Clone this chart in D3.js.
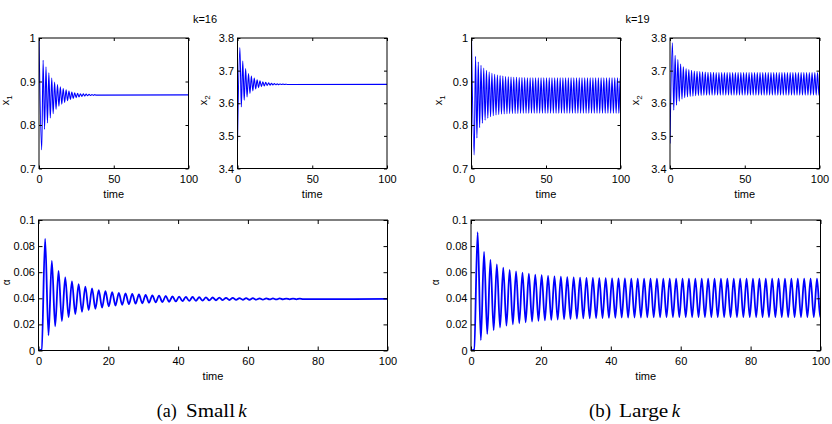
<!DOCTYPE html>
<html>
<head>
<meta charset="utf-8">
<script src="https://cdnjs.cloudflare.com/ajax/libs/d3/7.8.5/d3.min.js"></script>
<style>
  body { margin: 0; background: #fff; }
  svg { display: block; font-family: "Liberation Sans", Arial, Helvetica, sans-serif; }
</style>
</head>
<body>
<svg id="fig" width="832" height="424"></svg>
<script>
// ===== DATA =====
// Each trace is stored as its successive maxima (hi) and minima (lo);
// extremum k of a list sits at t0 + k * period.
const timeTicks = [0, 50, 100];
const timeTicksWide = [0, 20, 40, 60, 80, 100];
const x1Ticks = [0.7, 0.8, 0.9, 1];
const x2Ticks = [3.4, 3.5, 3.6, 3.7, 3.8];
const alphaTicks = [0, 0.02, 0.04, 0.06, 0.08, 0.1];

const titles = ['k=16', 'k=19'];
const captions = [['(a)', 'Small', 'k'], ['(b)', 'Large', 'k']];

const periodA = 1.92;   // small k
const periodB = 1.832;  // large k

// --- (a) small k ---
const x1A_lead = [[0, 1.0]];
const x1A_hi = [0.949, 0.934, 0.920, 0.908, 0.899, 0.893, 0.888, 0.884, 0.881, 0.878,
                0.876, 0.874, 0.873, 0.872, 0.8715, 0.871, 0.8705, 0.870, 0.8698];
const x1A_lo = [0.743, 0.790, 0.805, 0.816, 0.826, 0.836, 0.843, 0.848, 0.852, 0.856,
                0.859, 0.861, 0.863, 0.8645, 0.8657, 0.8665, 0.8672, 0.8678, 0.8682, 0.8686];
const x1A_tail = 0.8693;

const x2A_lead = [[0, 3.482]];
const x2A_hi = [3.771, 3.729, 3.706, 3.691, 3.683, 3.677, 3.672, 3.6685, 3.666, 3.664,
                3.6625, 3.6612, 3.6602, 3.6595, 3.659, 3.6586, 3.6583];
const x2A_lo = [3.589, 3.609, 3.619, 3.630, 3.638, 3.644, 3.648, 3.651, 3.653, 3.6545,
                3.6555, 3.6562, 3.6567, 3.657, 3.6573, 3.6575, 3.6577];
const x2A_tail = 3.658;

const alphaA_lead = [[0, 0], [0.9, 0.0008]];
const alphaA_hi = [0.0855, 0.0686, 0.0610, 0.0560, 0.0530, 0.0508, 0.0490, 0.0475, 0.0463, 0.0454,
                   0.0448, 0.0442, 0.0438, 0.0433, 0.0429, 0.0426, 0.0423, 0.0420, 0.0418, 0.0415,
                   0.0413, 0.0411, 0.0410, 0.0408, 0.0407, 0.0406, 0.0405, 0.0404, 0.0403, 0.0402,
                   0.0401, 0.0401, 0.0400, 0.0400, 0.0399, 0.0399, 0.0398, 0.0398, 0.0398];
const alphaA_lo = [0.0117, 0.0186, 0.0225, 0.0256, 0.0280, 0.0296, 0.0310, 0.0320, 0.0329, 0.0338,
                   0.0345, 0.0350, 0.0355, 0.0359, 0.0362, 0.0366, 0.0369, 0.0371, 0.0373, 0.0376,
                   0.0378, 0.0380, 0.0381, 0.0383, 0.0384, 0.0385, 0.0386, 0.0387, 0.0388, 0.0389,
                   0.0389, 0.0390, 0.0390, 0.0391, 0.0391, 0.0392, 0.0392, 0.0392, 0.0393];
const alphaA_tail = 0.0395;

// --- (b) large k ---
const x1B_lead = [[0, 1.0]];
const x1B_hi = [0.958, 0.945, 0.937, 0.931, 0.926, 0.922, 0.919, 0.9165, 0.9148, 0.9135,
                0.9124, 0.9115, 0.9108, 0.9102, 0.9098, 0.9095, 0.9092, 0.909, 0.9088, 0.9087,
                0.9086, 0.9085, 0.9085, 0.9085, 0.9085, 0.9085, 0.9085, 0.9085, 0.9085, 0.9085,
                0.9085, 0.9085, 0.9085, 0.9085, 0.9085, 0.9085, 0.9085, 0.9085, 0.9085, 0.9085,
                0.9085, 0.9085, 0.9085, 0.9085, 0.9085, 0.9085, 0.9085, 0.9085, 0.9085, 0.9085,
                0.9085, 0.9085, 0.9085, 0.9085, 0.9085];
const x1B_lo = [0.731, 0.770, 0.794, 0.804, 0.811, 0.8155, 0.819, 0.8215, 0.8232, 0.8243,
                0.8251, 0.8256, 0.826, 0.8263, 0.8265, 0.8267, 0.8268, 0.8269, 0.827, 0.827,
                0.827, 0.827, 0.827, 0.827, 0.827, 0.827, 0.827, 0.827, 0.827, 0.827,
                0.827, 0.827, 0.827, 0.827, 0.827, 0.827, 0.827, 0.827, 0.827, 0.827,
                0.827, 0.827, 0.827, 0.827, 0.827, 0.827, 0.827, 0.827, 0.827, 0.827,
                0.827, 0.827, 0.827, 0.827, 0.827];

const x2B_lead = [[0, 3.477]];
const x2B_hi = [3.785, 3.747, 3.734, 3.720, 3.712, 3.706, 3.703, 3.701, 3.699, 3.698,
                3.697, 3.6962, 3.6956, 3.6952, 3.6948, 3.6945, 3.6943, 3.694, 3.694, 3.694,
                3.694, 3.694, 3.694, 3.694, 3.694, 3.694, 3.694, 3.694, 3.694, 3.694,
                3.694, 3.694, 3.694, 3.694, 3.694, 3.694, 3.694, 3.694, 3.694, 3.694,
                3.694, 3.694, 3.694, 3.694, 3.694, 3.694, 3.694, 3.694, 3.694, 3.694,
                3.694, 3.694, 3.694, 3.694, 3.694];
const x2B_lo = [3.579, 3.594, 3.606, 3.613, 3.617, 3.6195, 3.6208, 3.6218, 3.6228, 3.6235,
                3.624, 3.6244, 3.6247, 3.625, 3.625, 3.625, 3.625, 3.625, 3.625, 3.625,
                3.625, 3.625, 3.625, 3.625, 3.625, 3.625, 3.625, 3.625, 3.625, 3.625,
                3.625, 3.625, 3.625, 3.625, 3.625, 3.625, 3.625, 3.625, 3.625, 3.625,
                3.625, 3.625, 3.625, 3.625, 3.625, 3.625, 3.625, 3.625, 3.625, 3.625,
                3.625, 3.625, 3.625, 3.625, 3.625];

const alphaB_lead = [[0, 0], [0.9, 0.0008]];
const alphaB_hi = [0.0906, 0.0755, 0.0694, 0.0660, 0.0635, 0.0618, 0.0606, 0.0596, 0.0588, 0.0582,
                   0.0577, 0.0572, 0.0568, 0.0565, 0.0562, 0.0560, 0.0558, 0.0557, 0.0556, 0.0555,
                   0.0554, 0.0553, 0.0552, 0.0552, 0.0551, 0.0551, 0.0551, 0.0550, 0.0550, 0.0550,
                   0.0550, 0.0550, 0.0550, 0.0550, 0.0550, 0.0550, 0.0550, 0.0550, 0.0550, 0.0550,
                   0.0550, 0.0550, 0.0550, 0.0550, 0.0550, 0.0550, 0.0550, 0.0550, 0.0550, 0.0550,
                   0.0550, 0.0550, 0.0550, 0.0550, 0.0550];
const alphaB_lo = [0.0079, 0.0128, 0.0156, 0.0176, 0.0190, 0.0201, 0.0209, 0.0216, 0.0222, 0.0227,
                   0.0231, 0.0234, 0.0237, 0.0240, 0.0242, 0.0244, 0.0246, 0.0247, 0.0248, 0.0249,
                   0.0250, 0.0251, 0.0252, 0.0252, 0.0253, 0.0253, 0.0254, 0.0254, 0.0254, 0.0255,
                   0.0255, 0.0255, 0.0255, 0.0255, 0.0255, 0.0255, 0.0255, 0.0255, 0.0255, 0.0255,
                   0.0255, 0.0255, 0.0255, 0.0255, 0.0255, 0.0255, 0.0255, 0.0255, 0.0255, 0.0255,
                   0.0255, 0.0255, 0.0255, 0.0255, 0.0255];
// ======================================

const BLUE = '#0000ff';
const svg = d3.select('#fig');

// lead points, then maxima/minima merged in time order, then optional end value at t=100
function buildSeries(lead, hi, tHi, lo, tLo, period, tail) {
  const ext = [];
  hi.forEach((v, i) => ext.push([tHi + i * period, v]));
  lo.forEach((v, i) => ext.push([tLo + i * period, v]));
  ext.sort((a, b) => a[0] - b[0]);
  const pts = lead.map(d => d.slice()).concat(ext);
  if (tail != null) pts.push([100, tail]);
  return pts;
}

let clipCount = 0;

function drawPanel(cfg) {
  const g = svg.append('g').attr('transform', `translate(${cfg.left},${cfg.top})`);
  const x = d3.scaleLinear().domain([0, 100]).range([0, cfg.w]);
  const y = d3.scaleLinear().domain(cfg.yDomain).range([cfg.h, 0]);

  const clipId = 'clip' + (clipCount++);
  g.append('clipPath').attr('id', clipId)
    .append('rect').attr('width', cfg.w).attr('height', cfg.h);

  const line = d3.line()
    .x(d => x(d[0]))
    .y(d => y(d[1]))
    .curve(d3.curveMonotoneX);

  g.append('path')
    .datum(cfg.data)
    .attr('clip-path', `url(#${clipId})`)
    .attr('fill', 'none')
    .attr('stroke', BLUE)
    .attr('stroke-width', cfg.lw)
    .attr('stroke-linejoin', 'round')
    .attr('d', line);

  const tk = cfg.tick;
  const fmt = d3.format('');
  const axes = [
    g.append('g').attr('transform', `translate(0,${cfg.h})`)
      .call(d3.axisBottom(x).tickValues(cfg.xTicks).tickFormat(fmt)
        .tickSize(-tk).tickSizeOuter(0).tickPadding(6.7)),
    g.append('g')
      .call(d3.axisTop(x).tickValues(cfg.xTicks).tickFormat('')
        .tickSize(-tk).tickSizeOuter(0)),
    g.append('g')
      .call(d3.axisLeft(y).tickValues(cfg.yTicks).tickFormat(fmt)
        .tickSize(-tk).tickSizeOuter(0).tickPadding(3.5)),
    g.append('g').attr('transform', `translate(${cfg.w},0)`)
      .call(d3.axisRight(y).tickValues(cfg.yTicks).tickFormat('')
        .tickSize(-tk).tickSizeOuter(0))
  ];
  axes.forEach(a => {
    a.attr('font-family', null).attr('font-size', 11);
    a.select('.domain').remove();
    a.selectAll('.tick line').attr('stroke', '#000');
    a.selectAll('.tick text').attr('fill', '#000');
  });

  // box
  g.append('rect')
    .attr('width', cfg.w).attr('height', cfg.h)
    .attr('fill', 'none').attr('stroke', '#000').attr('stroke-width', 1);

  // x label
  g.append('text')
    .attr('x', cfg.w / 2).attr('y', cfg.h + 29)
    .attr('text-anchor', 'middle').attr('font-size', 11)
    .text('time');

  // y label (rotated, optional subscript)
  const yl = g.append('text')
    .attr('transform', `translate(${-cfg.ylabOff},${cfg.h / 2 - 3}) rotate(-90)`)
    .attr('text-anchor', 'middle').attr('font-size', cfg.ylabSize || 11);
  yl.append('tspan').text(cfg.ylab);
  if (cfg.ysub) {
    yl.append('tspan').attr('font-size', 8).attr('dy', 3).text(cfg.ysub);
  }
}

const TOP = 38, BOT = 220, H = 130.5;

const panels = [
  { left: 39, top: TOP, w: 149.5, h: H, yDomain: [0.7, 1], yTicks: x1Ticks, xTicks: timeTicks,
    ylab: 'x', ysub: '1', ylabOff: 30.5, tick: 3, lw: 1.1,
    data: buildSeries(x1A_lead, x1A_hi, 1.8 + periodA / 2, x1A_lo, 1.8, periodA, x1A_tail) },
  { left: 237.5, top: TOP, w: 149.5, h: H, yDomain: [3.4, 3.8], yTicks: x2Ticks, xTicks: timeTicks,
    ylab: 'x', ysub: '2', ylabOff: 31, tick: 3, lw: 1.1,
    data: buildSeries(x2A_lead, x2A_hi, 1.6, x2A_lo, 1.6 + periodA / 2, periodA, x2A_tail) },
  { left: 38.5, top: BOT, w: 349, h: H, yDomain: [0, 0.1], yTicks: alphaTicks, xTicks: timeTicksWide,
    ylab: 'α', ysub: null, ylabOff: 29, ylabSize: 10, tick: 4, lw: 1.8,
    data: buildSeries(alphaA_lead, alphaA_hi, 1.9, alphaA_lo, 1.9 + periodA / 2, periodA, alphaA_tail) },
  { left: 471.5, top: TOP, w: 149, h: H, yDomain: [0.7, 1], yTicks: x1Ticks, xTicks: timeTicks,
    ylab: 'x', ysub: '1', ylabOff: 30, tick: 3, lw: 1.1,
    data: buildSeries(x1B_lead, x1B_hi, 1.8 + periodB / 2, x1B_lo, 1.8, periodB, null) },
  { left: 670, top: TOP, w: 149.5, h: H, yDomain: [3.4, 3.8], yTicks: x2Ticks, xTicks: timeTicks,
    ylab: 'x', ysub: '2', ylabOff: 31.5, tick: 3, lw: 1.1,
    data: buildSeries(x2B_lead, x2B_hi, 1.6, x2B_lo, 1.6 + periodB / 2, periodB, null) },
  { left: 471, top: BOT, w: 349.5, h: H, yDomain: [0, 0.1], yTicks: alphaTicks, xTicks: timeTicksWide,
    ylab: 'α', ysub: null, ylabOff: 32, ylabSize: 10, tick: 4, lw: 1.8,
    data: buildSeries(alphaB_lead, alphaB_hi, 1.9, alphaB_lo, 1.9 + periodB / 2, periodB, null) }
];

panels.forEach(drawPanel);

// titles above each pair
[205, 637.5].forEach((cx, i) => {
  svg.append('text')
    .attr('x', cx).attr('y', 23.3)
    .attr('text-anchor', 'middle').attr('font-size', 11)
    .text(titles[i]);
});

// sub-figure captions (serif)
const capPos = [
  [[156.7, 20], [186, 49], [238.3, 8.4]],
  [[589, 22], [619, 49.3], [671.7, 8.3]]
];
captions.forEach((parts, i) => {
  parts.forEach((s, j) => {
    svg.append('text')
      .attr('x', capPos[i][j][0]).attr('y', 417)
      .attr('font-family', '"Liberation Serif", "Times New Roman", serif')
      .attr('font-size', 18)
      .attr('font-style', j === 2 ? 'italic' : 'normal')
      .attr('textLength', capPos[i][j][1])
      .attr('lengthAdjust', 'spacingAndGlyphs')
      .text(s);
  });
});
</script>
</body>
</html>
